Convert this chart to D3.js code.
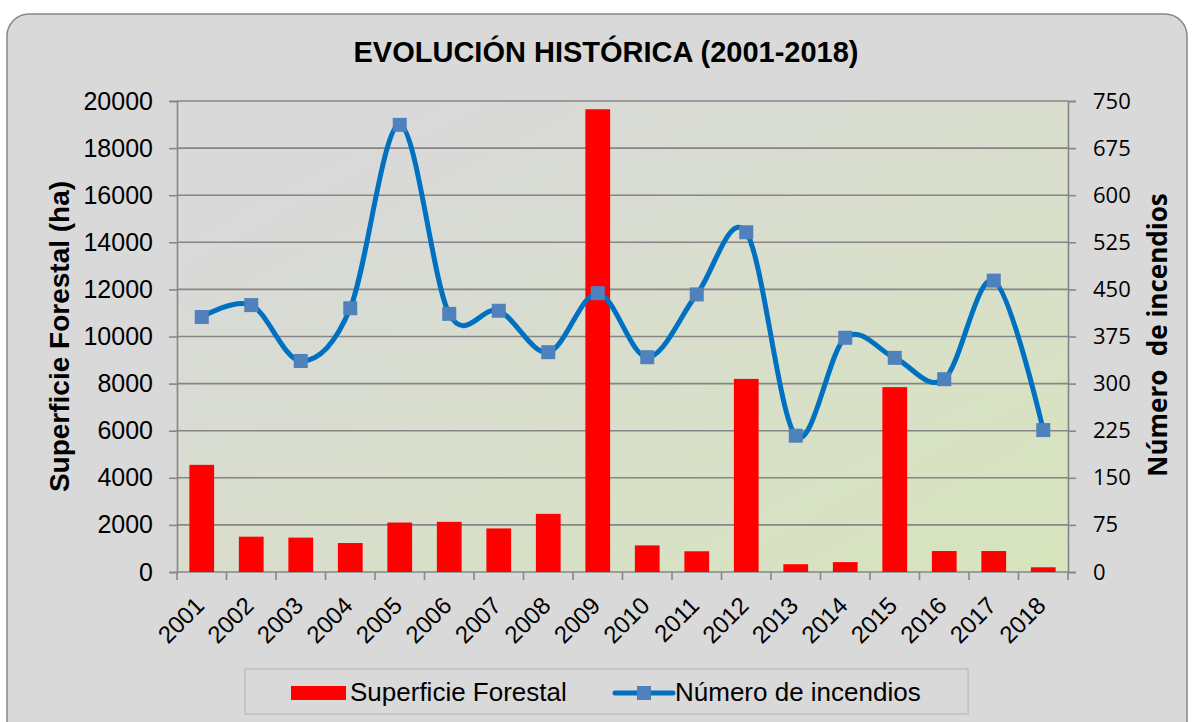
<!DOCTYPE html>
<html>
<head>
<meta charset="utf-8">
<script src="https://cdn.jsdelivr.net/npm/d3@7"></script>
<style>
  body { margin: 0; background: #fff; }
  svg { display: block; }
</style>
</head>
<body>
<svg id="chart" width="1192" height="722"></svg>
<script>
// data
const years = ["2001","2002","2003","2004","2005","2006","2007","2008","2009",
               "2010","2011","2012","2013","2014","2015","2016","2017","2018"];
const superficie = [4550, 1500, 1460, 1230, 2100, 2130, 1850, 2470, 19650,
                    1130, 880, 8200, 330, 420, 7850, 890, 890, 200];
const incendios = [406, 425, 336, 420, 712, 411, 416, 350, 444,
                   342, 442, 541, 217, 373, 341, 307, 464, 226];
const leftTicks = [0, 2000, 4000, 6000, 8000, 10000, 12000, 14000, 16000, 18000, 20000];
const rightTicks = [0, 75, 150, 225, 300, 375, 450, 525, 600, 675, 750];

const svg = d3.select("#chart");
const plot = { left: 177, right: 1068, top: 101, bottom: 572 };
const grid = "#868686";
const arial = "Liberation Sans, Arial, sans-serif";
const calibri = "Open Sans, Lato, sans-serif";

// outer frame
svg.append("rect")
	.attr("x", 7).attr("y", 14).attr("width", 1180).attr("height", 730)
	.attr("rx", 22)
	.attr("fill", "#d9d9d9").attr("stroke", "#868686").attr("stroke-width", 1.5);

// plot area gradient
const defs = svg.append("defs");
const grad = defs.append("linearGradient").attr("id", "plotGrad")
	.attr("x1", 0).attr("y1", 0).attr("x2", 1).attr("y2", 1);
grad.append("stop").attr("offset", "0.15").attr("stop-color", "#d9d9d9");
grad.append("stop").attr("offset", "1").attr("stop-color", "#d7e4bc");

svg.append("rect")
	.attr("x", plot.left).attr("y", plot.top)
	.attr("width", plot.right - plot.left).attr("height", plot.bottom - plot.top)
	.attr("fill", "url(#plotGrad)");

// scales
const x = d3.scaleBand().domain(years).range([plot.left, plot.right]);
const yL = d3.scaleLinear().domain([0, 20000]).range([plot.bottom, plot.top]);
const yR = d3.scaleLinear().domain([0, 750]).range([plot.bottom, plot.top]);

// gridlines
svg.append("g").selectAll("line").data(leftTicks.slice(1)).enter().append("line")
	.attr("x1", plot.left).attr("x2", plot.right)
	.attr("y1", d => yL(d)).attr("y2", d => yL(d))
	.attr("stroke", grid).attr("stroke-width", 1.6);

// left axis
const axL = svg.append("g").attr("transform", `translate(${plot.left},0)`)
	.call(d3.axisLeft(yL).tickValues(leftTicks).tickSize(8).tickPadding(16).tickFormat(d3.format("d")));
axL.selectAll("text").attr("font-family", arial)
	.attr("font-size", 25).attr("fill", "#000");

// right axis
const axR = svg.append("g").attr("transform", `translate(${plot.right},0)`)
	.call(d3.axisRight(yR).tickValues(rightTicks).tickSize(8).tickPadding(17));
axR.selectAll("text").attr("font-family", calibri)
	.attr("font-size", 22).attr("fill", "#000");

// bottom axis (ticks at band edges)
const axB = svg.append("g").attr("transform", `translate(0,${plot.bottom})`);
axB.append("line").attr("x1", plot.left).attr("x2", plot.right)
	.attr("stroke", grid).attr("stroke-width", 1.6);
const edges = years.map(d => x(d)).concat([plot.right]);
axB.selectAll("line.tk").data(edges).enter().append("line").attr("class", "tk")
	.attr("x1", d => d).attr("x2", d => d).attr("y1", 0).attr("y2", 8)
	.attr("stroke", grid).attr("stroke-width", 1.6);
axB.selectAll("text").data(years).enter().append("text")
	.attr("transform", d => `translate(${x(d) + x.bandwidth() / 2 + 4},35) rotate(-45)`)
	.attr("text-anchor", "end")
	.attr("font-family", arial)
	.attr("font-size", 24).attr("fill", "#000")
	.text(d => d);

[axL, axR].forEach(a => {
	a.select(".domain").attr("stroke", grid).attr("stroke-width", 1.6);
	a.selectAll(".tick line").attr("stroke", grid).attr("stroke-width", 1.6);
});

// bars
const bw = x.bandwidth() * 0.5;
svg.append("g").selectAll("rect").data(superficie).enter().append("rect")
	.attr("x", (d, i) => x(years[i]) + (x.bandwidth() - bw) / 2)
	.attr("y", d => yL(d))
	.attr("width", bw)
	.attr("height", d => plot.bottom - yL(d))
	.attr("fill", "#ff0000");

// smoothed line
const line = d3.line()
	.x((d, i) => x(years[i]) + x.bandwidth() / 2)
	.y(d => yR(d))
	.curve(d3.curveCardinal.tension(0));
svg.append("path").datum(incendios)
	.attr("d", line)
	.attr("fill", "none").attr("stroke", "#0070c0").attr("stroke-width", 5);

const ms = 14;
svg.append("g").selectAll("rect").data(incendios).enter().append("rect")
	.attr("x", (d, i) => x(years[i]) + x.bandwidth() / 2 - ms / 2)
	.attr("y", d => yR(d) - ms / 2)
	.attr("width", ms).attr("height", ms)
	.attr("fill", "#4f81bd");

// title
svg.append("text")
	.attr("x", 606).attr("y", 62).attr("text-anchor", "middle")
	.attr("font-family", arial)
	.attr("font-weight", "bold").attr("font-size", 29)
	.text("EVOLUCIÓN HISTÓRICA (2001-2018)");

// axis titles
svg.append("text")
	.attr("transform", `translate(69,${(plot.top + plot.bottom) / 2}) rotate(-90)`)
	.attr("text-anchor", "middle")
	.attr("font-family", arial)
	.attr("font-weight", "bold").attr("font-size", 28)
	.text("Superficie Forestal (ha)");

svg.append("text")
	.attr("transform", `translate(1167,335) rotate(-90)`)
	.attr("text-anchor", "middle")
	.attr("font-family", calibri)
	.attr("font-weight", "bold").attr("font-size", 26)
	.attr("xml:space", "preserve")
	.text("Número  de incendios");

// legend
const lg = svg.append("g");
lg.append("rect").attr("x", 245).attr("y", 669).attr("width", 723).attr("height", 45)
	.attr("fill", "#d9d9d9").attr("stroke", "#bfbfbf").attr("stroke-width", 1.5);
lg.append("rect").attr("x", 291).attr("y", 686).attr("width", 55).attr("height", 14)
	.attr("fill", "#ff0000");
lg.append("text").attr("x", 350).attr("y", 701)
	.attr("font-family", arial).attr("font-size", 26)
	.text("Superficie Forestal");
lg.append("line").attr("x1", 615).attr("x2", 673).attr("y1", 693).attr("y2", 693)
	.attr("stroke", "#0070c0").attr("stroke-width", 5).attr("stroke-linecap", "round");
lg.append("rect").attr("x", 637).attr("y", 686).attr("width", 14).attr("height", 14)
	.attr("fill", "#4f81bd");
lg.append("text").attr("x", 675).attr("y", 701)
	.attr("font-family", arial).attr("font-size", 26)
	.text("Número de incendios");
</script>
</body>
</html>
